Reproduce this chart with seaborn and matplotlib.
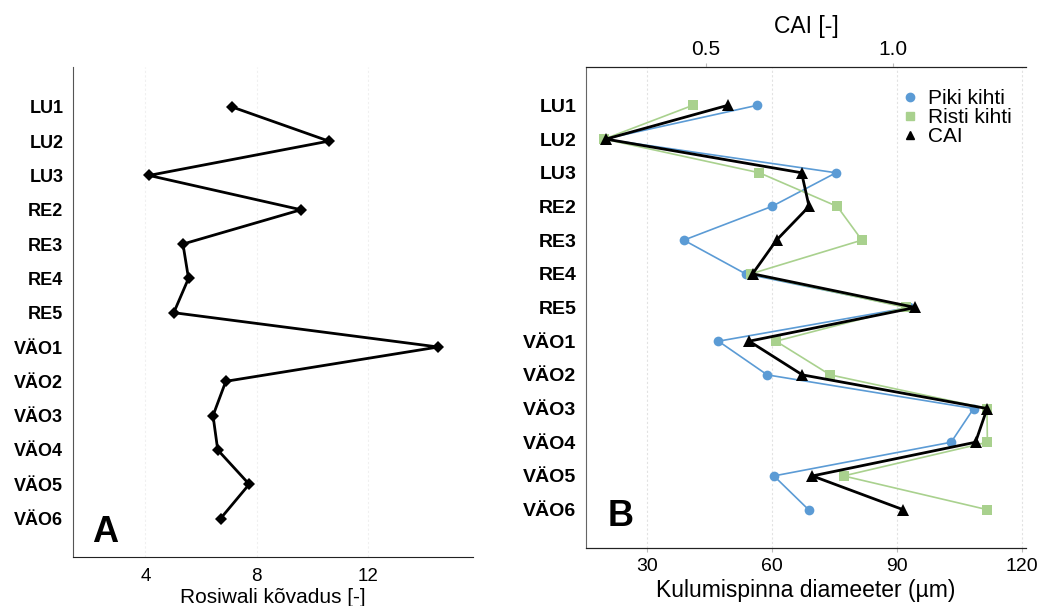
import matplotlib
matplotlib.use("Agg")
import matplotlib.pyplot as plt
from matplotlib.lines import Line2D
import numpy as np
import pandas as pd
import seaborn as sns

samples = ["LU1", "LU2", "LU3", "RE2", "RE3", "RE4", "RE5",
           "VÄO1", "VÄO2", "VÄO3", "VÄO4", "VÄO5", "VÄO6"]
rosiwal = [7.10, 10.59, 4.13, 9.59, 5.35, 5.55, 5.02,
           14.52, 6.89, 6.43, 6.60, 7.73, 6.70]
piki = [56.4, 19.8, 75.4, 60.0, 38.9, 53.7, 93.0,
        47.2, 58.9, 108.4, 103.0, 60.5, 68.8]
risti = [41.0, 19.8, 57.0, 75.7, 81.6, 55.0, 92.2,
         61.0, 74.0, 111.6, 111.7, 77.2, 111.6]
cai = [0.558, 0.233, 0.756, 0.776, 0.689, 0.625, 1.060,
       0.616, 0.758, 1.252, 1.221, 0.785, 1.027]
left_xticks = [4, 8, 12]
bottom_xticks = [30, 60, 90, 120]
top_xticks = [0.5, 1.0]

sns.set_style("white")
plt.rcParams['font.family'] = ['Liberation Sans', 'DejaVu Sans']
plt.rcParams.update({"text.color": "black", "axes.labelcolor": "black",
                     "xtick.color": "black", "ytick.color": "black"})

pos = np.arange(len(samples))
df = pd.DataFrame({"pos": pos, "sample": samples, "rosiwal": rosiwal,
                   "piki": piki, "risti": risti, "cai": cai})

W, H = 1041, 606
fig = plt.figure(figsize=(W / 100, H / 100), dpi=100)
ax1 = fig.add_axes([73 / W, 1 - 557 / H, 400 / W, 490 / H])
ax2 = fig.add_axes([586 / W, 1 - 548 / H, 440 / W, 481 / H])

blue = "#5B9BD5"
green = "#A9D18E"

# ---------- Panel A ----------
sns.lineplot(data=df, x="rosiwal", y="pos", sort=False, orient="y", estimator=None,
             ax=ax1, color="black", lw=2.0, marker="D", markersize=6,
             markeredgewidth=0, zorder=3)
ax1.set_xlim(1.4, 15.77)
ax1.set_ylim(13.12, -1.16)
ax1.set_yticks(pos)
ax1.set_yticklabels(samples, fontweight="bold", fontsize=13)
ax1.set_xticks(left_xticks)
ax1.tick_params(axis="x", labelsize=13.5, length=3, color="#bbbbbb", pad=5)
ax1.tick_params(axis="y", length=4, color="#888888", pad=3)
ax1.set_xlabel("Rosiwali kõvadus [-]", fontsize=15, labelpad=2)
ax1.set_ylabel("")
for s in ["top", "right"]:
    ax1.spines[s].set_visible(False)
ax1.spines["left"].set_color("#555555")
ax1.spines["bottom"].set_color("#222222")
ax1.grid(axis="x", color="#f0f0f0", lw=0.8, ls=(0, (2, 2)))
ax1.grid(axis="y", visible=False)
ax1.text(0.048, 0.015, "A", transform=ax1.transAxes, fontsize=26,
         fontweight="bold", va="bottom", ha="left")

# ---------- Panel B ----------
ax3 = ax2.twiny()
sns.lineplot(data=df, x="piki", y="pos", sort=False, orient="y", estimator=None,
             ax=ax2, color=blue, lw=1.2, marker="o", markersize=7,
             markeredgewidth=0, zorder=2)
sns.lineplot(data=df, x="risti", y="pos", sort=False, orient="y", estimator=None,
             ax=ax2, color=green, lw=1.2, marker="s", markersize=7,
             markeredgewidth=0, zorder=3)
sns.lineplot(data=df, x="cai", y="pos", sort=False, orient="y", estimator=None,
             ax=ax3, color="black", lw=2.0, marker="^", markersize=9,
             markeredgewidth=0, zorder=4)

ax2.set_xlim(15.44, 120.96)
ax2.set_ylim(13.14, -1.14)
ax3.set_ylim(13.14, -1.14)
ax3.set_xlim(0.1797, 1.356)
ax2.set_yticks(pos)
ax2.set_yticklabels(samples, fontweight="bold", fontsize=14)
ax2.set_xticks(bottom_xticks)
ax3.set_xticks(top_xticks)
ax3.set_xticklabels(["0.5", "1.0"])
ax2.tick_params(axis="x", labelsize=14, length=3, color="#bbbbbb", pad=4)
ax2.tick_params(axis="y", length=4, color="#888888", pad=3)
ax3.tick_params(axis="x", labelsize=15, length=3, color="#bbbbbb", pad=3)
ax2.set_xlabel("Kulumispinna diameeter (µm)", fontsize=16.5, labelpad=3)
ax2.set_ylabel("")
ax3.set_xlabel("CAI [-]", fontsize=16.5, labelpad=5)
ax3.set_ylabel("")
for a in (ax2, ax3):
    a.spines["right"].set_visible(False)
    a.spines["left"].set_color("#666666")
    a.spines["bottom"].set_color("#222222")
    a.spines["top"].set_color("#222222")
ax3.spines["left"].set_visible(False)
ax2.grid(axis="x", color="#e2e2e2", lw=0.8, ls=(0, (2, 2)))
ax2.grid(axis="y", visible=False)
ax3.grid(False)
ax2.text(0.05, 0.03, "B", transform=ax2.transAxes, fontsize=26,
         fontweight="bold", va="bottom", ha="left")

handles = [
    Line2D([], [], ls="none", marker="o", color=blue, markersize=6),
    Line2D([], [], ls="none", marker="s", color=green, markersize=6),
    Line2D([], [], ls="none", marker="^", color="black", markersize=6),
]
leg = ax3.legend(handles, ["Piki kihti", "Risti kihti", "CAI"], loc="upper left",
                 bbox_to_anchor=(0.685, 0.985), frameon=False, fontsize=15,
                 handlelength=0.8, handletextpad=0.45, labelspacing=0.0,
                 borderpad=0.2)

fig.savefig("out.png", dpi=100)
